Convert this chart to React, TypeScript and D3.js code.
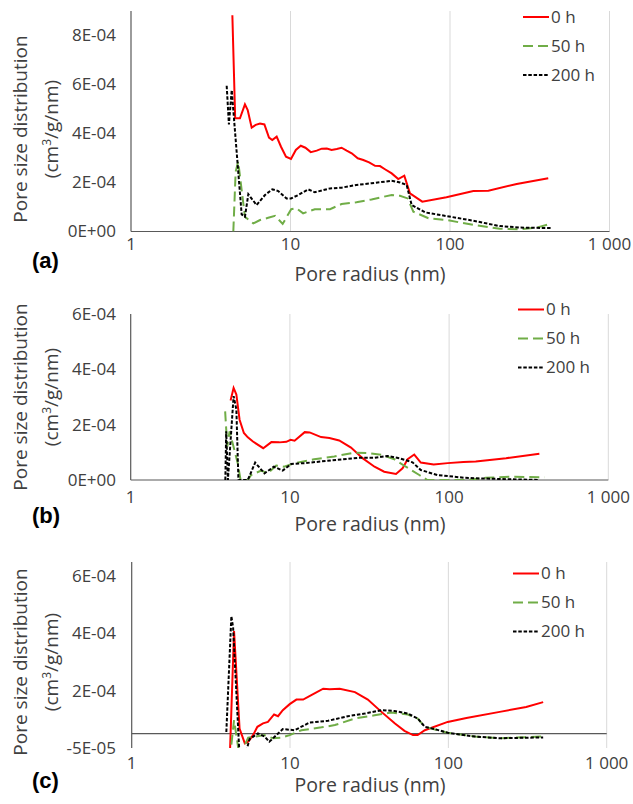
import React, { useEffect, useRef } from 'react';
import * as d3 from 'd3';

// pore radius (nm), pore size distribution (cm3/g/nm)
const seriesNames = ['0 h', '50 h', '200 h'];

const a0h = [[4.32, 8.83e-4], [4.5, 4.62e-4], [4.82, 4.62e-4], [5.18, 5.19e-4], [5.39, 4.96e-4], [5.71, 4.24e-4], [6.05, 4.35e-4], [6.44, 4.41e-4], [6.86, 4.37e-4], [7.33, 3.83e-4], [7.69, 3.73e-4], [8.19, 3.87e-4], [8.72, 3.46e-4], [9.37, 3.05e-4], [10.07, 2.96e-4], [10.8, 3.33e-4], [11.6, 3.5e-4], [12.4, 3.42e-4], [13.4, 3.24e-4], [14.6, 3.3e-4], [15.7, 3.38e-4], [16.9, 3.39e-4], [18.1, 3.33e-4], [19.5, 3.37e-4], [20.9, 3.42e-4], [22.5, 3.3e-4], [24.2, 3.19e-4], [26.4, 2.99e-4], [28.6, 2.92e-4], [31.1, 2.82e-4], [33.9, 2.68e-4], [36.4, 2.67e-4], [39.1, 2.54e-4], [43.1, 2.37e-4], [47.4, 2.14e-4], [51.7, 2.28e-4], [56.1, 1.56e-4], [67, 1.22e-4], [95, 1.4e-4], [140, 1.65e-4], [174, 1.66e-4], [262, 1.94e-4], [413, 2.17e-4]];
const a50h = [[4.38, 0], [4.53, 2.44e-4], [4.7, 2.85e-4], [5.18, 6e-5], [5.84, 3.3e-5], [6.44, 4.7e-5], [7.25, 5.6e-5], [8.0, 6.4e-5], [8.93, 3.1e-5], [10.1, 9.1e-5], [10.9, 9.5e-5], [12.0, 7.4e-5], [14.2, 9.1e-5], [17.7, 9.1e-5], [20.9, 1.12e-4], [25.9, 1.19e-4], [32.2, 1.31e-4], [43.1, 1.49e-4], [48.6, 1.46e-4], [54.3, 1.35e-4], [58.9, 8.1e-5], [73.2, 5.4e-5], [95, 4.7e-5], [140, 2.7e-5], [205, 1.1e-5], [274, 9e-6], [350, 1.6e-5], [433, 3.3e-5]];
const a200h = [[3.98, 5.95e-4], [4.11, 4.37e-4], [4.28, 5.77e-4], [4.94, 7e-5], [5.18, 6e-5], [5.44, 1.52e-4], [6.13, 1.08e-4], [6.92, 1.49e-4], [7.69, 1.72e-4], [8.38, 1.65e-4], [9.45, 1.35e-4], [10.07, 1.35e-4], [11.2, 1.49e-4], [12.9, 1.72e-4], [14.2, 1.6e-4], [17.7, 1.76e-4], [20.9, 1.79e-4], [25.9, 1.9e-4], [32.2, 1.97e-4], [43.1, 2.07e-4], [48.6, 2.0e-4], [53.5, 1.9e-4], [57.5, 1.08e-4], [69.9, 7.8e-5], [95, 6.3e-5], [140, 4.4e-5], [205, 2.2e-5], [274, 1.6e-5], [433, 1.4e-5]];

const b0h = [[4.24, 2.87e-4], [4.43, 3.33e-4], [4.61, 3.09e-4], [4.83, 2.18e-4], [5.14, 1.7e-4], [5.44, 1.54e-4], [5.86, 1.39e-4], [6.8, 1.15e-4], [7.65, 1.37e-4], [8.6, 1.36e-4], [9.5, 1.38e-4], [10.1, 1.45e-4], [10.7, 1.42e-4], [12.4, 1.73e-4], [13.3, 1.72e-4], [15.7, 1.55e-4], [17.7, 1.52e-4], [20.4, 1.43e-4], [24.2, 1.17e-4], [28.6, 7.9e-5], [34, 4.8e-5], [39.1, 3.0e-5], [46.4, 2.2e-5], [51, 4.2e-5], [54.9, 7.5e-5], [60.4, 9.2e-5], [66.4, 6.3e-5], [80, 5.6e-5], [98, 6.1e-5], [123, 6.5e-5], [147, 6.7e-5], [228, 7.9e-5], [369, 9.5e-5]];
const b50h = [[3.92, 2.48e-4], [4.04, 1.21e-4], [4.18, 1.76e-4], [4.7, 6.1e-5], [4.9, 0], [5.44, 0], [5.71, 1.8e-5], [6.6, 3.4e-5], [7.25, 2.4e-5], [8.2, 5.2e-5], [9.2, 4.8e-5], [10.7, 6.1e-5], [14.2, 7.5e-5], [19, 8.5e-5], [25.4, 9.9e-5], [30.7, 9.7e-5], [37.5, 9.1e-5], [45.3, 7.5e-5], [53.5, 4.8e-5], [65, 1.8e-5], [73, 0], [98, 0], [128, 0], [170, 8e-6], [250, 1.2e-5], [397, 1e-5]];
const b200h = [[3.93, 0], [3.98, 1.76e-4], [4.08, 0], [4.43, 3.03e-4], [4.61, 2.55e-4], [4.75, 0], [5.44, 0], [6.05, 6.3e-5], [6.92, 2.4e-5], [7.93, 4.8e-5], [9.0, 3.4e-5], [10.2, 5.8e-5], [12.4, 6.1e-5], [15.7, 6.7e-5], [20, 7.3e-5], [26.6, 8.0e-5], [34, 8.0e-5], [41, 8.7e-5], [48.6, 7.9e-5], [58.9, 6.4e-5], [66.4, 3.6e-5], [84.5, 1.8e-5], [125, 8e-6], [147, 6e-6], [369, 0]];

const c0h = [[4.16, -9e-5], [4.43, 3.58e-4], [4.8, 1.8e-5], [5.18, -3.4e-5], [5.44, -2.8e-5], [5.84, -5e-6], [6.22, 2.4e-5], [6.75, 3.6e-5], [7.25, 4.1e-5], [7.93, 6.7e-5], [8.4, 6.1e-5], [9.0, 8.2e-5], [9.95, 1.03e-4], [10.97, 1.19e-4], [12.1, 1.19e-4], [13.9, 1.37e-4], [16.2, 1.57e-4], [17.8, 1.55e-4], [20.6, 1.57e-4], [25.7, 1.45e-4], [31, 1.19e-4], [37.8, 7.6e-5], [45.8, 3.6e-5], [52.8, 1e-5], [59.8, -5e-6], [64, -5e-6], [71, 1.2e-5], [99, 4.1e-5], [130, 5.5e-5], [211, 7.6e-5], [310, 9.3e-5], [397, 1.1e-4]];
const c50h = [[4.16, -9e-5], [4.43, 4.7e-5], [4.8, -8e-5], [5.44, -1.4e-5], [6.1, -1e-5], [6.9, -5e-6], [7.8, -1.6e-5], [8.8, -1.4e-5], [9.95, -5e-6], [11.8, 1.2e-5], [15.8, 2.2e-5], [19.2, 3e-5], [25.7, 5.3e-5], [34.2, 6.4e-5], [43.6, 7.4e-5], [55.5, 6.7e-5], [64, 5.3e-5], [71, 2.4e-5], [99, 3e-6], [147, -1e-5], [211, -1.6e-5], [397, -1e-5]];
const c200h = [[3.96, 6e-6], [4.26, 4.1e-4], [4.37, 3.7e-4], [4.8, -8e-5], [5.3, -6e-5], [5.55, -1.9e-5], [6.27, 1e-6], [6.9, -1e-5], [7.4, -2.8e-5], [8.2, -5e-6], [9.0, 1.6e-5], [10.7, 1.2e-5], [13.3, 3.9e-5], [17.4, 4.5e-5], [23.2, 6.1e-5], [29.6, 7e-5], [37.8, 8.2e-5], [45.8, 7.9e-5], [55.5, 7e-5], [64, 5.3e-5], [71, 2.4e-5], [82, 1.6e-5], [99, 3e-6], [147, -1e-5], [211, -1.6e-5], [397, -1.3e-5]];

const xTicks = [1, 10, 100, 1000];
const xTickLabels = ['1', '10', '100', '1 000'];
const aTicks = [0, 2e-4, 4e-4, 6e-4, 8e-4];
const aTickLabels = ['0E+00', '2E-04', '4E-04', '6E-04', '8E-04'];
const bTicks = [0, 2e-4, 4e-4, 6e-4];
const bTickLabels = ['0E+00', '2E-04', '4E-04', '6E-04'];
const cTicks = [-5e-5, 1.5e-4, 3.5e-4, 5.5e-4];
const cTickLabels = ['-5E-05', '2E-04', '4E-04', '6E-04'];

const colors = ['#ff0000', '#70ad47', '#000000'];
const dashes = [null, '10,5', '3.5,1.8'];
const font = "'Open Sans', 'Noto Sans', sans-serif";
const textColor = '#404040';

const panels = [
  { id: 'a', series: [a0h, a50h, a200h], domain: [0, 9e-4], ticks: aTicks, tickLabels: aTickLabels,
    left: 131, right: 609.5, top: 11, bottom: 231.5, xLabelY: 250, titleY: 281, letterY: 268, ytitleY: 129, legendX: 523, legendY: 17 },
  { id: 'b', series: [b0h, b50h, b200h], domain: [0, 6e-4], ticks: bTicks, tickLabels: bTickLabels,
    left: 130.7, right: 608.3, top: 314, bottom: 480, xLabelY: 503, titleY: 531, letterY: 523, ytitleY: 397, legendX: 518, legendY: 309.5 },
  { id: 'c', series: [c0h, c50h, c200h], domain: [-5e-5, 6e-4], ticks: cTicks, tickLabels: cTickLabels,
    left: 131.7, right: 606.7, top: 562, bottom: 748, xLabelY: 769, titleY: 792, letterY: 788, ytitleY: 662, legendX: 513, legendY: 573.5 },
];

const App = () => {
  const ref = useRef(null);

  useEffect(() => {
    const svg = d3.select(ref.current);
    svg.selectAll('*').remove();

    panels.forEach((p) => {
      const x = d3.scaleLog().domain([1, 1000]).range([p.left, p.right]);
      const y = d3.scaleLinear().domain(p.domain).range([p.bottom, p.top]);
      // Excel axis in (c): labels rounded, axis bottom at -5E-05
      if (p.id === 'c') {
        const unit = (p.bottom - 576) / (5.5e-4 + 5e-5);
        y.range([p.bottom, p.bottom - unit * (p.domain[1] - p.domain[0])]);
      }
      const g = svg.append('g');

      // vertical gridlines
      g.selectAll('.grid').data(xTicks.slice(1)).enter().append('line')
        .attr('x1', d => x(d)).attr('x2', d => x(d))
        .attr('y1', p.top).attr('y2', p.bottom)
        .attr('stroke', '#d9d9d9').attr('stroke-width', 1);

      // axes lines
      const zeroY = p.id === 'c' ? y(0) : p.bottom;
      g.append('line').attr('x1', p.left).attr('x2', p.right).attr('y1', zeroY).attr('y2', zeroY)
        .attr('stroke', '#595959').attr('stroke-width', 1.2);
      g.append('line').attr('x1', p.left).attr('x2', p.left).attr('y1', p.top).attr('y2', p.bottom)
        .attr('stroke', '#595959').attr('stroke-width', 1.2);

      // tick labels
      g.selectAll('.xl').data(xTicks).enter().append('text')
        .attr('x', d => x(d)).attr('y', p.xLabelY)
        .attr('text-anchor', 'middle').attr('font-family', font).attr('font-size', '17px')
        .attr('fill', textColor)
        .text((d, i) => xTickLabels[i]);
      g.selectAll('.yl').data(p.ticks).enter().append('text')
        .attr('x', 116).attr('y', d => y(d)).attr('dy', '0.35em')
        .attr('text-anchor', 'end').attr('font-family', font).attr('font-size', '17px')
        .attr('fill', textColor)
        .text((d, i) => p.tickLabels[i]);

      // titles
      g.append('text').attr('x', 370).attr('y', p.titleY)
        .attr('text-anchor', 'middle').attr('font-family', font).attr('font-size', '19.5px')
        .attr('fill', textColor).text('Pore radius (nm)');
      g.append('text').attr('transform', `translate(27, ${p.ytitleY}) rotate(-90)`)
        .attr('text-anchor', 'middle').attr('font-family', font).attr('font-size', '19px')
        .attr('fill', textColor).text('Pore size distribution');
      const t2 = g.append('text').attr('transform', `translate(58, ${p.ytitleY}) rotate(-90)`)
        .attr('text-anchor', 'middle').attr('font-family', font).attr('font-size', '19px')
        .attr('fill', textColor);
      t2.append('tspan').text('(cm');
      t2.append('tspan').attr('font-size', '12px').attr('dy', '-0.6em').text('3');
      t2.append('tspan').attr('dy', '0.4em').text('/g/nm)');
      g.append('text').attr('x', 32).attr('y', p.letterY)
        .attr('font-family', "'Liberation Sans', Arial, sans-serif").attr('font-weight', 'bold')
        .attr('font-size', '22px').attr('fill', '#000').text(`(${p.id})`);

      // lines
      const clipId = `clip-${p.id}`;
      svg.append('clipPath').attr('id', clipId).append('rect')
        .attr('x', p.left).attr('y', p.top).attr('width', p.right - p.left).attr('height', p.bottom - p.top);
      const line = d3.line().x(d => x(d[0])).y(d => y(d[1]));
      p.series.forEach((s, i) => {
        g.append('path').datum(s).attr('clip-path', `url(#${clipId})`)
          .attr('d', line).attr('fill', 'none')
          .attr('stroke', colors[i]).attr('stroke-width', 2)
          .attr('stroke-dasharray', dashes[i]);
      });

      // legend
      seriesNames.forEach((name, i) => {
        const ly = p.legendY + i * 29;
        g.append('line').attr('x1', p.legendX).attr('x2', p.legendX + 26).attr('y1', ly).attr('y2', ly)
          .attr('stroke', colors[i]).attr('stroke-width', 2).attr('stroke-dasharray', dashes[i]);
        g.append('text').attr('x', p.legendX + 28).attr('y', ly).attr('dy', '0.35em')
          .attr('font-family', font).attr('font-size', '17px').attr('fill', textColor).text(name);
      });
    });
  }, []);

  return (
    <svg ref={ref} width={633} height={804}
      style={{ position: 'absolute', left: 0, top: 0, background: '#fff' }} />
  );
};

export default App;
